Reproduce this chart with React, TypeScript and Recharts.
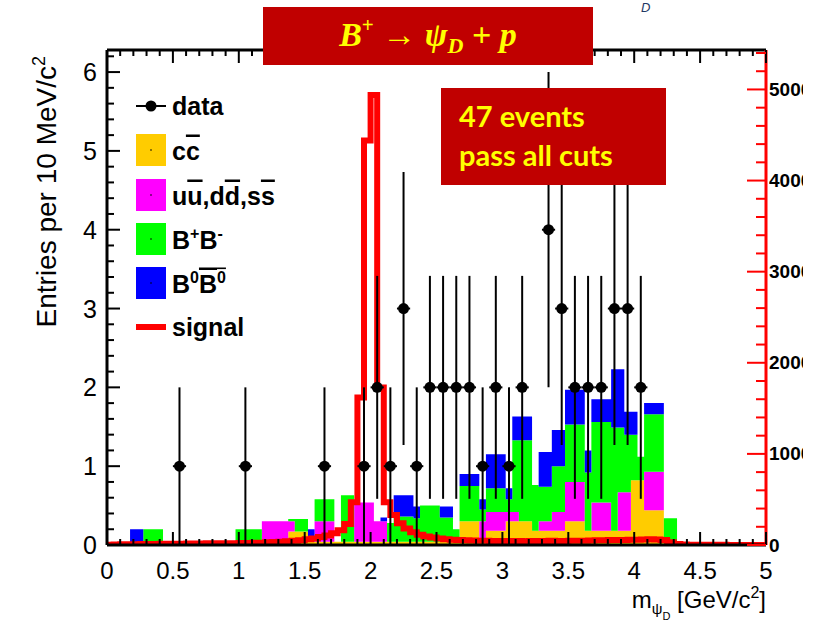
import React from 'react';
import { ComposedChart, Area, Line, Scatter, ErrorBar, XAxis, YAxis } from 'recharts';

const SANS = "'Liberation Sans', Arial, Helvetica, sans-serif";

// stacked MC background: bin edges (GeV/c^2) and per-bin height of each component
const MC_EDGES = [
  0, 0.175, 0.275, 0.425, 0.975, 1.175, 1.375, 1.425, 1.525, 1.575, 1.725,
  1.775, 1.875, 2.025, 2.075, 2.125, 2.175, 2.325, 2.375, 2.525, 2.625, 2.675,
  2.825, 2.875, 3.025, 3.075, 3.125, 3.225, 3.275, 3.375, 3.475, 3.625, 3.675,
  3.825, 3.875, 3.925, 3.975, 4.025, 4.075, 4.225, 4.325, 5,
];
const CC = [
  0, 0, 0, 0, 0, 0, 0.17, 0.17, 0.04, 0.04, 0.04, 0.04, 0.04, 0.04, 0.04, 0.04,
  0.04, 0.04, 0.04, 0.04, 0.04, 0.3, 0.05, 0.18, 0.3, 0.3, 0.3, 0.18, 0.18, 0.18,
  0.3, 0.18, 0.18, 0.18, 0.18, 0.18, 0.82, 0.82, 0.44, 0, 0,
];
const UDS = [
  0, 0, 0, 0, 0, 0.3, 0.13, 0, 0, 0.26, 0, 0, 0.5, 0.26, 0.26, 0, 0, 0, 0, 0, 0,
  0, 0.25, 0.24, 0.12, 0.12, 0, 0, 0.12, 0.24, 0.5, 0, 0.36, 0, 0.49, 0.49, 0, 0,
  0.49, 0, 0,
];
const BPBM = [
  0, 0, 0.2, 0, 0.2, 0, 0.03, 0.16, 0, 0.28, 0, 0.59, 0, 0, 0, 0.24, 0.32, 0.3,
  0.46, 0.31, 0.16, 0.45, 0.15, 0.3, 0.16, 0.91, 1.03, 0.58, 0.44, 0.58, 0.73,
  0.74, 1.02, 1.31, 0.82, 0.73, 0.58, 0.3, 0.73, 0.34, 0,
];
const B0B0 = [
  0, 0.2, 0, 0, 0, 0, 0, 0, 0.16, 0, 0, 0, 0, 0, 0.05, 0, 0.27, 0.15, 0, 0.14, 0,
  0.15, 0.13, 0.43, 0.14, 0.3, 0.3, 0, 0.44, 0.46, 0.44, 0.28, 0.29, 0.74, 0.74,
  0.29, 0.29, 0, 0.14, 0, 0,
];

// signal (right axis), one value per 0.05 GeV/c^2 bin from 0 to 5
const SIG_BIN = 0.05;
const SIGNAL = [
  3, 5, 7, 8, 9, 10, 11, 12, 13, 14, 14, 15, 16, 16, 17, 18, 18, 19, 20, 20,
  21, 22, 24, 26, 29, 32, 36, 41, 46, 53, 62, 72, 88, 105, 128, 162, 230, 470, 1620, 4440,
  4940, 1730, 470, 330, 240, 180, 140, 112, 94, 82, 72, 64, 58, 54, 51, 49, 47, 46, 45, 44,
  45, 43, 44, 42, 43, 44, 45, 46, 44, 45, 47, 46, 48, 50, 51, 53, 54, 56, 55, 57,
  58, 60, 62, 60, 55, 30, 12, 5, 3, 3, 2, 2, 2, 2, 1, 1, 1, 1, 1, 1,
];

// data: bin centres and counts
const DATA_X = [
  0.55, 1.05, 1.65, 1.95, 2.05, 2.15, 2.25, 2.35, 2.45, 2.55, 2.65, 2.75, 2.85,
  2.95, 3.05, 3.15, 3.35, 3.45, 3.55, 3.65, 3.75, 3.85, 3.95, 4.05,
];
const DATA_N = [1, 1, 1, 1, 2, 1, 3, 1, 2, 2, 2, 2, 1, 2, 1, 2, 4, 3, 2, 2, 2, 3, 3, 2];

// axis ticks
const X_TICKS = Array.from({ length: 51 }, (_, i) => i / 10);
const Y_TICKS = Array.from({ length: 32 }, (_, i) => i / 5);
const R_TICKS = Array.from({ length: 28 }, (_, i) => i * 200);

const stackRows = MC_EDGES.map((x, i) => ({
  x,
  cc: CC[i] ?? 0,
  uds: UDS[i] ?? 0,
  bpbm: BPBM[i] ?? 0,
  b0b0: B0B0[i] ?? 0,
}));

const sigRows = [
  ...SIGNAL.map((s, i) => ({ x: +(i * SIG_BIN).toFixed(2), s })),
  { x: 5, s: SIGNAL[SIGNAL.length - 1] },
];

const dataRows = DATA_X.map((x, i) => ({
  x,
  y: DATA_N[i],
  ey: Math.sqrt(DATA_N[i]),
  ex: 0.05,
}));

const isMult = (v: number, step: number) => Math.abs(v / step - Math.round(v / step)) < 1e-6;

const BottomTick = (p: any) => {
  const v = p.payload.value;
  const major = isMult(v, 0.5);
  return (
    <g>
      <line x1={p.x} x2={p.x} y1={p.y} y2={p.y - (major ? 13 : 6)} stroke="#000" strokeWidth={2} />
      {major && (
        <text x={p.x} y={p.y + 34} textAnchor="middle" fontSize={24} fontFamily={SANS} fill="#000">
          {String(v)}
        </text>
      )}
    </g>
  );
};

const TopTick = (p: any) => {
  const v = p.payload.value;
  const major = isMult(v, 0.5);
  return <line x1={p.x} x2={p.x} y1={p.y} y2={p.y + (major ? 13 : 6)} stroke="#000" strokeWidth={2} />;
};

const LeftTick = (p: any) => {
  const v = p.payload.value;
  const major = isMult(v, 1);
  return (
    <g>
      <line x1={p.x} x2={p.x + (major ? 13 : 7)} y1={p.y} y2={p.y} stroke="#000" strokeWidth={2} />
      {major && (
        <text x={p.x - 10} y={p.y} textAnchor="end" dominantBaseline="central" fontSize={25} fontFamily={SANS} fill="#000">
          {Math.round(v)}
        </text>
      )}
    </g>
  );
};

const RightTick = (p: any) => {
  const v = p.payload.value;
  const major = isMult(v, 1000);
  return (
    <g>
      <line x1={p.x} x2={p.x - (major ? 19 : 10)} y1={p.y} y2={p.y} stroke="#FF0000" strokeWidth={2} />
      {major && (
        <svg x={p.x + 3} y={p.y - 14} width={803 - (p.x + 3)} height={28} overflow="hidden">
          <text x={0} y={14} dominantBaseline="central" fontSize={19} fontWeight="bold" fontFamily={SANS} fill="#000">
            {v}
          </text>
        </svg>
      )}
    </g>
  );
};

const DataDot = (p: any) => <circle cx={p.cx} cy={p.cy} r={5.5} fill="#000" />;

const LEGEND = [
  { key: 'cc', color: '#FFCC00', y: 150 },
  { key: 'uds', color: '#FF00FF', y: 195 },
  { key: 'bpbm', color: '#00FF00', y: 239 },
  { key: 'b0b0', color: '#0000FF', y: 283 },
];

const legendLabel = (key: string) => {
  if (key === 'cc')
    return (
      <>
        c<tspan textDecoration="overline">c</tspan>
      </>
    );
  if (key === 'uds')
    return (
      <>
        u<tspan textDecoration="overline">u</tspan>,d<tspan textDecoration="overline">d</tspan>,s
        <tspan textDecoration="overline">s</tspan>
      </>
    );
  if (key === 'bpbm')
    return (
      <>
        B<tspan dy={-10} fontSize={16}>+</tspan>
        <tspan dy={10}>B</tspan>
        <tspan dy={-10} fontSize={16}>-</tspan>
      </>
    );
  return (
    <>
      B<tspan dy={-10} fontSize={16}>0</tspan>
      <tspan dy={10} textDecoration="overline">B</tspan>
      <tspan dy={-10} fontSize={16} textDecoration="overline">0</tspan>
    </>
  );
};

export default function App() {
  return (
    <div style={{ position: 'absolute', left: 0, top: 0, width: 828, height: 624, background: '#fff' }}>
      <ComposedChart
        width={828}
        height={624}
        data={stackRows}
        margin={{ top: 20, right: 32, bottom: 49, left: 47 }}
      >
        <XAxis
          xAxisId="b"
          dataKey="x"
          type="number"
          domain={[0, 5]}
          ticks={X_TICKS}
          interval={0}
          height={30}
          tickSize={0}
          tickMargin={0}
          tickLine={false}
          tick={BottomTick}
          axisLine={{ stroke: '#000', strokeWidth: 3 }}
          allowDataOverflow
        />
        <XAxis
          xAxisId="t"
          orientation="top"
          dataKey="x"
          type="number"
          domain={[0, 5]}
          ticks={X_TICKS}
          interval={0}
          height={30}
          tickSize={0}
          tickMargin={0}
          tickLine={false}
          tick={TopTick}
          axisLine={{ stroke: '#000', strokeWidth: 3 }}
          allowDataOverflow
        />
        <YAxis
          yAxisId="l"
          type="number"
          domain={[0, 6.28]}
          ticks={Y_TICKS}
          interval={0}
          width={60}
          tickSize={0}
          tickMargin={0}
          tickLine={false}
          tick={LeftTick}
          axisLine={{ stroke: '#000', strokeWidth: 3 }}
          allowDataOverflow
        />
        <YAxis
          yAxisId="r"
          orientation="right"
          type="number"
          domain={[0, 5433]}
          ticks={R_TICKS}
          interval={0}
          width={30}
          tickSize={0}
          tickMargin={0}
          tickLine={false}
          tick={RightTick}
          axisLine={{ stroke: '#FF0000', strokeWidth: 3 }}
          allowDataOverflow
        />
        <Area xAxisId="b" yAxisId="l" type="stepAfter" dataKey="cc" stackId="mc" fill="#FFCC00" fillOpacity={1} stroke="none" isAnimationActive={false} />
        <Area xAxisId="b" yAxisId="l" type="stepAfter" dataKey="uds" stackId="mc" fill="#FF00FF" fillOpacity={1} stroke="none" isAnimationActive={false} />
        <Area xAxisId="b" yAxisId="l" type="stepAfter" dataKey="bpbm" stackId="mc" fill="#00FF00" fillOpacity={1} stroke="none" isAnimationActive={false} />
        <Area xAxisId="b" yAxisId="l" type="stepAfter" dataKey="b0b0" stackId="mc" fill="#0000FF" fillOpacity={1} stroke="none" isAnimationActive={false} />
        <Line
          xAxisId="b"
          yAxisId="r"
          data={sigRows}
          dataKey="s"
          type="stepAfter"
          stroke="#FF0000"
          strokeWidth={6}
          dot={false}
          activeDot={false}
          isAnimationActive={false}
        />
        <Scatter xAxisId="b" yAxisId="l" data={dataRows} dataKey="y" fill="#000" shape={DataDot} isAnimationActive={false}>
          <ErrorBar dataKey="ey" direction="y" width={0} stroke="#000" strokeWidth={2} />
          <ErrorBar dataKey="ex" direction="x" width={0} stroke="#000" strokeWidth={2} />
        </Scatter>
      </ComposedChart>

      <svg width={828} height={624} style={{ position: 'absolute', left: 0, top: 0, pointerEvents: 'none' }}>
        {/* stray label fragment at the top edge */}
        <text x={641} y={12} fontSize={13} fontStyle="italic" fontFamily={SANS} fill="#1F3864">D</text>

        {/* title box */}
        <rect x={263} y={7} width={330} height={58} fill="#C00000" />
        <text x={428} y={46} textAnchor="middle" fill="#FFFF00" fontFamily="'Liberation Serif', 'DejaVu Serif', serif" fontStyle="italic" fontWeight="bold" fontSize={34}>
          B<tspan dy={-14} fontSize={21} fontStyle="normal">+</tspan>
          <tspan dy={14} fontStyle="normal"> → </tspan>ψ<tspan dy={7} fontSize={22}>D</tspan>
          <tspan dy={-7} fontStyle="normal"> + </tspan>p
        </text>

        {/* events box */}
        <rect x={441} y={88} width={225} height={97} fill="#C00000" />
        <text x={459} y={127} fill="#FFFF00" fontFamily="Lato, 'Open Sans', sans-serif" fontWeight="bold" fontSize={29}>47 events</text>
        <text x={459} y={166} fill="#FFFF00" fontFamily="Lato, 'Open Sans', sans-serif" fontWeight="bold" fontSize={29}>pass all cuts</text>

        {/* legend */}
        <line x1={136} x2={166} y1={106} y2={106} stroke="#000" strokeWidth={2} />
        <circle cx={151} cy={106} r={5.5} fill="#000" />
        <text x={172} y={115} fontSize={25} fontWeight="bold" fontFamily={SANS} fill="#000">data</text>
        {LEGEND.map((e) => (
          <g key={e.key}>
            <rect x={136} y={e.y - 16} width={30} height={32} fill={e.color} />
            <circle cx={151} cy={e.y} r={0.8} fill="#000" />
            <text x={172} y={e.y + 9.5} fontSize={25} fontWeight="bold" fontFamily={SANS} fill="#000">
              {legendLabel(e.key)}
            </text>
          </g>
        ))}
        <line x1={136} x2={166} y1={327} y2={327} stroke="#FF0000" strokeWidth={6} />
        <text x={172} y={336} fontSize={25} fontWeight="bold" fontFamily={SANS} fill="#000">signal</text>

        {/* axis titles */}
        <text
          x={56}
          y={56}
          transform="rotate(-90 56 56)"
          textAnchor="end"
          fontSize={28}
          fontFamily={SANS}
          fill="#000"
        >
          Entries per 10 MeV/c<tspan dy={-11} fontSize={18}>2</tspan>
        </text>
        <text x={766} y={608} textAnchor="end" fontSize={24} fontFamily={SANS} fill="#000">
          m<tspan dy={6} fontSize={15}>ψ</tspan>
          <tspan dy={6} fontSize={11}>D</tspan>
          <tspan dy={-12}>  [GeV/c</tspan>
          <tspan dy={-10} fontSize={16}>2</tspan>
          <tspan dy={10}>]</tspan>
        </text>
      </svg>
    </div>
  );
}
